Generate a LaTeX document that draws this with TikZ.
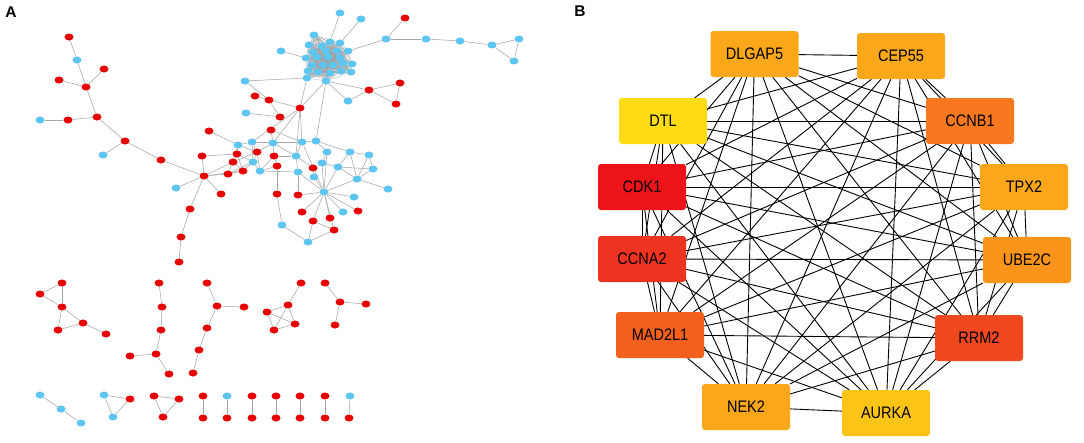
\documentclass[tikz,border=0pt]{standalone}
\usepackage{fontspec}
\setmainfont{Liberation Sans}
\usetikzlibrary{shapes.geometric,positioning}
\definecolor{netred}{RGB}{230,0,0}
\definecolor{netblue}{RGB}{92,198,240}
\definecolor{cdk}{RGB}{236,20,25}
\definecolor{ccna}{RGB}{238,52,32}
\definecolor{rrm}{RGB}{240,72,30}
\definecolor{mad}{RGB}{243,96,27}
\definecolor{ccnb}{RGB}{247,120,30}
\definecolor{ube}{RGB}{250,148,26}
\definecolor{amber}{RGB}{250,167,26}
\definecolor{aurk}{RGB}{252,196,22}
\definecolor{dtl}{RGB}{253,220,20}
\pgfdeclarelayer{edges}
\pgfsetlayers{edges,main}
\newcommand{\hubtext}[1]{\scalebox{1}[1.15]{#1}}

\begin{document}
\begin{tikzpicture}[x=1pt,y=-1pt,
  rn/.style={ellipse,fill=netred,minimum width=9pt,minimum height=7pt,inner sep=0pt},
  bn/.style={ellipse,fill=netblue,minimum width=9pt,minimum height=7pt,inner sep=0pt},
  ln/.style={draw=black!35,line width=0.55pt},
  cl/.style={draw=black!38,line width=0.25pt},
  hub/.style={rectangle,rounded corners=3pt,minimum width=88pt,minimum height=46pt,inner sep=0pt,font=\fontsize{14.5}{16}\selectfont},
  tie/.style={draw=black,line width=0.9pt},
  panel/.style={font=\fontsize{15.5}{17}\selectfont\bfseries}]
\useasboundingbox (0,0) rectangle (1084,442);
\node[panel] (labA) at (11,12) {A};
\node[panel] (labB) at (580,11) {B};

\foreach \n/\x/\y in {t1/69/37,t3/104/69,t4/59/80,t5/86/87,t7/68/120,t8/97/117,t9/125/141,t11/161/160,t12/204/176,t14/221/194,t15/190/209,t16/202/156,t17/209/131,t18/181/237,t19/179/262,
  m2/255/96,m4/269/100,m5/271/130,m9/237/154,m10/257/152,m11/274/156,m12/233/162,m14/243/171,m16/228/174,m17/277/166,m18/280/117,m19/300/108,m27/313/168,m35/277/194,m36/298/195,m38/302/212,m40/358/211,m41/330/218,m42/313/221,m44/334/230,
  o5/405/18,o11/369/90,o12/400/83,o13/396/104,
  g1/62/283,g2/40/294,g3/62/307,g4/58/330,g5/83/323,g6/106/334,
  h1/159/283,h2/162/307,h3/161/330,h4/156/354,h5/130/356,h6/169/374,
  k1/207/283,k2/217/306,k3/244/307,k4/207/328,k5/199/350,k6/193/373,
  q1/301/283,q2/288/305,q3/267/312,q4/295/324,q5/274/330,
  s1/325/283,s2/340/302,s3/366/304,s4/335/325,
  u2/130/399,v1/154/396,v2/179/399,v3/163/417,
  pt1/203/396,pt3/252/396,pt4/276/396,pt5/300/396,pt6/325/396,
  pb1/203/418,pb2/227/418,pb3/252/418,pb4/276/418,pb5/300/418,pb6/325/418,pb7/349/418}
  \node[rn] (\n) at (\x,\y) {};

\foreach \n/\x/\y in {t2/77/60,t6/40/120,t10/103/155,t13/176/188,
  m1/245/81,m3/246/113,m6/238/145,m7/252/142,m8/273/143,m13/253/162,m15/260/171,m20/302/142,m21/316/141,m22/296/156,m23/327/152,m24/350/152,m25/369/155,m26/322/163,m28/338/167,m29/373/169,m30/298/172,m31/314/177,m32/357/179,m33/388/189,m34/324/192,m37/354/197,m39/343/212,m43/282/225,m45/308/242,
  o1/340/13,o2/361/19,o3/281/51,o4/386/39,o6/426/39,o7/460/41,o8/492/45,o9/519/39,o10/514/61,o14/348/101,
  c1/314/35,c2/330/42,c3/340/43,c4/309/45,c5/322/46,c6/313/52,c7/326/51,c8/337/51,c9/348/51,c10/306/58,c11/317/57,c12/328/57,c13/340/58,
  c14/312/65,c15/323/65,c16/333/65,c17/343/63,c18/352/64,c19/308/71,c20/318/72,c21/330/73,c22/341/71,c23/351/72,c24/307/78,c25/326/81,
  p1/40/395,p2/61/409,p3/81/423,u1/104/395,u3/113/417,pt2/227/396,pt7/350/396}
  \node[bn] (\n) at (\x,\y) {};

\begin{pgfonlayer}{edges}
\foreach \i in {1,...,25}{\foreach \j in {\i,...,25}{\ifnum\j>\i \draw[cl] (c\i) -- (c\j);\fi}}
\foreach \a/\b in {t1/t2,t2/t5,t3/t5,t4/t5,t5/t8,t6/t7,t7/t8,t8/t9,t9/t10,t9/t11,t11/t12,t12/t13,t12/t14,t12/t15,t12/t16,t15/t18,t18/t19,t17/m6,t12/m12,t12/m16,t12/m14,t16/m9,
  m1/m4,m1/c24,m2/m19,m3/m18,m4/m18,m19/c24,m19/c25,m19/m8,m19/m7,m19/m22,m19/m20,c25/m21,m5/m8,m5/m20,
  m6/m7,m6/m9,m6/m10,m6/m12,m7/m8,m7/m10,m7/m13,m7/m20,m8/m11,m8/m10,m8/m22,m9/m12,m9/m13,m9/m14,m10/m12,m10/m13,m10/m15,m11/m15,m11/m17,m11/m22,
  m12/m14,m12/m16,m13/m14,m13/m15,m13/m16,m14/m16,m15/m17,m15/m30,m17/m35,m30/m36,
  m20/m21,m20/m22,m22/m30,m21/m23,m21/m24,m23/m26,m23/m34,m24/m25,m24/m28,m24/m32,m25/m29,m25/m32,m28/m29,m28/m32,m29/m32,m32/m33,m26/m28,m26/m34,m27/m31,m22/m27,m28/m34,m30/m34,m31/m34,m20/m34,
  m34/m36,m34/m38,m34/m42,m34/m41,m34/m39,m34/m40,m34/m37,m34/m32,m34/m44,m35/m43,m43/m45,m45/m42,m45/m44,m42/m44,
  o1/c2,o2/c3,o3/c10,o4/c9,o4/o5,o4/o6,o6/o7,o7/o8,o8/o9,o9/o10,o8/o10,o11/c25,o11/o12,o11/o13,o12/o13,o11/o14,o14/c25,
  g1/g2,g2/g3,g1/g3,g3/g4,g3/g5,g4/g5,g5/g6,h1/h2,h2/h3,h3/h4,h4/h5,h4/h6,k1/k2,k2/k3,k2/k4,k4/k5,k5/k6,
  q1/q2,q2/q3,q2/q4,q3/q4,q3/q5,q5/q4,q2/q5,s1/s2,s2/s3,s2/s4,
  p1/p2,p2/p3,u1/u2,u2/u3,u1/u3,v1/v2,v2/v3,v1/v3}
  \draw[ln] (\a) -- (\b);
\foreach \i in {1,...,7} \draw[ln] (pt\i) -- (pb\i);
\end{pgfonlayer}

\node[hub,fill=amber] (DLGAP5) at (754.5,54) {\hubtext{DLGAP5}};
\node[hub,fill=amber] (CEP55) at (901,56) {\hubtext{CEP55}};
\node[hub,fill=dtl] (DTL) at (663,121) {\hubtext{DTL}};
\node[hub,fill=ccnb] (CCNB1) at (970,121) {\hubtext{CCNB1}};
\node[hub,fill=cdk] (CDK1) at (642,187) {\hubtext{CDK1}};
\node[hub,fill=amber] (TPX2) at (1024,187) {\hubtext{TPX2}};
\node[hub,fill=ccna] (CCNA2) at (642,259) {\hubtext{CCNA2}};
\node[hub,fill=ube] (UBE2C) at (1027,260) {\hubtext{UBE2C}};
\node[hub,fill=mad] (MAD2L1) at (660,335) {\hubtext{MAD2L1}};
\node[hub,fill=rrm] (RRM2) at (979,338) {\hubtext{RRM2}};
\node[hub,fill=amber] (NEK2) at (746,407) {\hubtext{NEK2}};
\node[hub,fill=aurk] (AURKA) at (886,413) {\hubtext{AURKA}};

\begin{pgfonlayer}{edges}
\foreach \a [count=\i] in {DLGAP5,CEP55,CCNB1,TPX2,UBE2C,RRM2,AURKA,NEK2,MAD2L1,CCNA2,CDK1,DTL}{
  \foreach \b [count=\j] in {DLGAP5,CEP55,CCNB1,TPX2,UBE2C,RRM2,AURKA,NEK2,MAD2L1,CCNA2,CDK1,DTL}{
    \ifnum\j>\i \draw[tie] (\a) -- (\b);\fi}}
\end{pgfonlayer}
\end{tikzpicture}
\end{document}
